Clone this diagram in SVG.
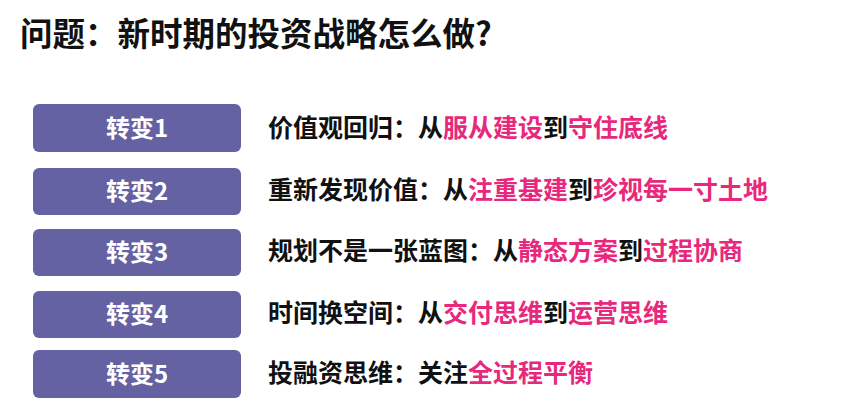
<svg xmlns="http://www.w3.org/2000/svg" width="865" height="405" viewBox="0 0 865 405">
<style>
text{font-family:"Noto Sans CJK SC","Noto Sans",sans-serif;font-weight:bold}
.box{fill:#6462A2}
.bt{fill:#fff;font-size:24px;text-anchor:middle}
.t{fill:#111;font-size:25px}
.p{fill:#E8287C}
</style>
<rect width="865" height="405" fill="#fff"/>
<text x="20" y="46" style="font-size:32.5px" fill="#111">问题：新时期的投资战略怎么做?</text>
<g id="n1"><rect class="box" x="33" y="104" width="208" height="48" rx="6"/><text class="bt" x="137" y="137">转变1</text><text class="t" x="268" y="137">价值观回归：从<tspan class="p">服从建设</tspan>到<tspan class="p">守住底线</tspan></text></g>
<g id="n2"><rect class="box" x="33" y="168" width="208" height="47" rx="6"/><text class="bt" x="137" y="200">转变2</text><text class="t" x="268" y="199">重新发现价值：从<tspan class="p">注重基建</tspan>到<tspan class="p">珍视每一寸土地</tspan></text></g>
<g id="n3"><rect class="box" x="33" y="229" width="208" height="47" rx="6"/><text class="bt" x="137" y="261">转变3</text><text class="t" x="268" y="260">规划不是一张蓝图：从<tspan class="p">静态方案</tspan>到<tspan class="p">过程协商</tspan></text></g>
<g id="n4"><rect class="box" x="33" y="291" width="208" height="47" rx="6"/><text class="bt" x="137" y="323">转变4</text><text class="t" x="268" y="322">时间换空间：从<tspan class="p">交付思维</tspan>到<tspan class="p">运营思维</tspan></text></g>
<g id="n5"><rect class="box" x="33" y="350" width="208" height="48" rx="6"/><text class="bt" x="137" y="383">转变5</text><text class="t" x="268" y="382">投融资思维：关注<tspan class="p">全过程平衡</tspan></text></g>
<g id="connectors"/>
</svg>
